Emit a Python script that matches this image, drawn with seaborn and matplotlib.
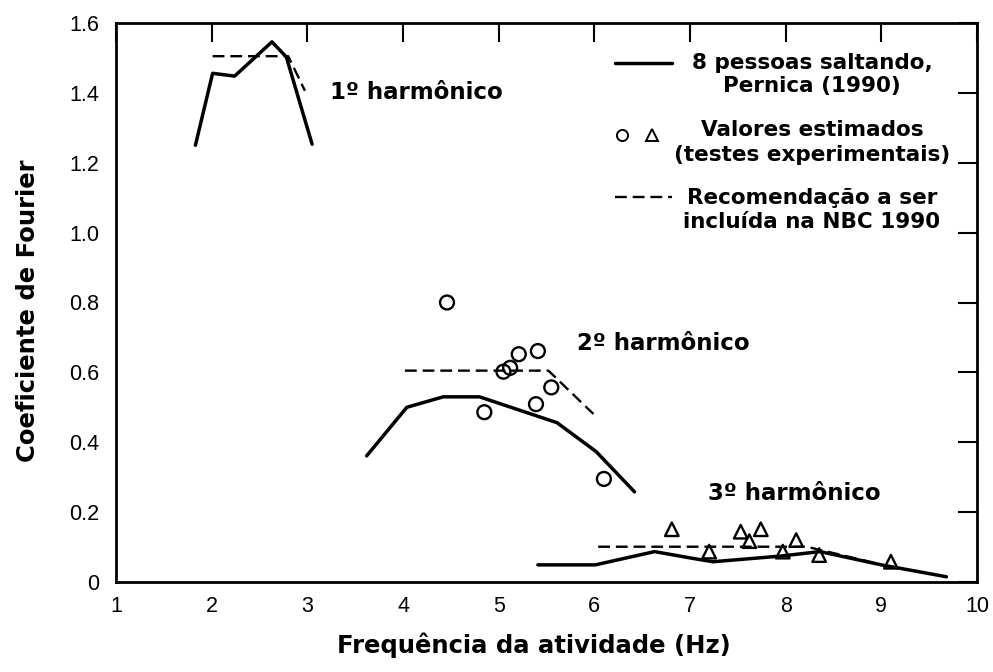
import numpy as np
import pandas as pd
import matplotlib
matplotlib.use("Agg")
import matplotlib.pyplot as plt
import seaborn as sns

# ---------------- data ----------------
h1_x = [1.83, 2.01, 2.24, 2.63, 2.78, 3.05]
h1_y = [1.25, 1.456, 1.448, 1.546, 1.503, 1.253]
h1_rec_x = [2.01, 2.80, 2.975]
h1_rec_y = [1.505, 1.505, 1.406]

h2_x = [3.62, 4.04, 4.42, 4.80, 5.61, 6.02, 6.42]
h2_y = [0.361, 0.500, 0.530, 0.530, 0.456, 0.373, 0.258]
h2_rec_x = [4.02, 5.52, 5.99]
h2_rec_y = [0.605, 0.605, 0.481]
circ_x = [4.46, 4.85, 5.05, 5.12, 5.21, 5.39, 5.41, 5.55, 6.10]
circ_y = [0.800, 0.486, 0.602, 0.613, 0.652, 0.509, 0.661, 0.557, 0.295]

h3_x = [5.41, 6.01, 6.63, 7.02, 7.24, 7.94, 8.36, 9.00, 9.68]
h3_y = [0.049, 0.049, 0.087, 0.068, 0.058, 0.074, 0.087, 0.049, 0.015]
h3_rec_x = [6.04, 8.22, 9.00]
h3_rec_y = [0.101, 0.101, 0.050]
tri_x = [6.81, 7.20, 7.53, 7.62, 7.74, 7.97, 8.11, 8.35, 9.10]
tri_y = [0.151, 0.087, 0.144, 0.117, 0.151, 0.087, 0.120, 0.077, 0.058]

x_ticks = [1, 2, 3, 4, 5, 6, 7, 8, 9, 10]
y_ticks = [0, 0.2, 0.4, 0.6, 0.8, 1.0, 1.2, 1.4, 1.6]
y_tick_labels = ["0", "0.2", "0.4", "0.6", "0.8", "1.0", "1.2", "1.4", "1.6"]

x_label = "Frequência da atividade (Hz)"
y_label = "Coeficiente de Fourier"
harm_labels = ["1º harmônico", "2º harmônico", "3º harmônico"]
harm_pos = [(3.237, 1.402), (5.815, 0.684), (7.188, 0.254)]
legend_lines = [["8 pessoas saltando,", "Pernica (1990)"],
                ["Valores estimados", "(testes experimentais)"],
                ["Recomendação a ser", "incluída na NBC 1990"]]

# ---------------- figure ----------------
sns.set_theme(style="white")
plt.rcParams['font.family'] = ['DejaVu Sans']
plt.rcParams['text.color'] = 'black'
plt.rcParams['axes.labelcolor'] = 'black'
plt.rcParams['xtick.color'] = 'black'
plt.rcParams['ytick.color'] = 'black'

fig = plt.figure(figsize=(9.93, 6.72), dpi=100)
ax = fig.add_axes([116 / 993, 1 - 582 / 672, 861 / 993, 559 / 672])

solid_kw = dict(color="black", linewidth=2.5, sort=False, estimator=None, ax=ax)
dash_kw = dict(color="black", linewidth=1.7, sort=False, estimator=None, ax=ax,
               linestyle=(0, (5, 2.5)))

for xs, ys in [(h1_x, h1_y), (h2_x, h2_y), (h3_x, h3_y)]:
    sns.lineplot(data=pd.DataFrame({"x": xs, "y": ys}), x="x", y="y", **solid_kw)
for xs, ys in [(h1_rec_x, h1_rec_y), (h2_rec_x, h2_rec_y), (h3_rec_x, h3_rec_y)]:
    sns.lineplot(data=pd.DataFrame({"x": xs, "y": ys}), x="x", y="y", **dash_kw)

sns.scatterplot(x=circ_x, y=circ_y, marker="o", s=100, facecolors="none",
                edgecolors="black", linewidth=1.7, ax=ax, zorder=5)
sns.scatterplot(x=tri_x, y=tri_y, marker="^", s=95, facecolors="none",
                edgecolors="black", linewidth=1.7, ax=ax, zorder=5)

ax.set_xlim(1, 10)
ax.set_ylim(0, 1.6)
ax.set_xticks(x_ticks)
ax.set_xticklabels([str(t) for t in x_ticks])
ax.set_yticks(y_ticks)
ax.set_yticklabels(y_tick_labels)
ax.tick_params(direction="in", length=14, width=1.5, top=True, right=True,
               labelsize=15.5, colors="black")
ax.tick_params(axis="x", pad=10)
ax.tick_params(axis="y", pad=12)
for lab in ax.get_xticklabels() + ax.get_yticklabels():
    lab.set_fontfamily(["Liberation Sans Narrow", "Liberation Sans", "DejaVu Sans"])
    lab.set_color("black")
for sp in ax.spines.values():
    sp.set_linewidth(2)
    sp.set_color("black")

ax.set_xlabel(x_label, fontsize=17.5, fontweight="bold", va="center", color="black")
ax.xaxis.set_label_coords(0.485, (582 - 645) / 559)
ax.set_ylabel(y_label, fontsize=17.5, fontweight="bold", va="center", color="black")
ax.yaxis.set_label_coords((28 - 116) / 861, 0.485)

for txt, (tx, ty) in zip(harm_labels, harm_pos):
    ax.text(tx, ty, txt, fontsize=16.5, fontweight="bold", ha="left", va="center",
            color="black")

# ---------------- legend (hand drawn) ----------------
def fx(px):
    return (px - 116) / 861

def fy(py):
    return (582 - py) / 559

tr = ax.transAxes
ax.plot([fx(615), fx(672)], [fy(63), fy(63)], color="black", lw=2.5, transform=tr)
ax.plot([fx(615), fx(672)], [fy(197), fy(197)], color="black", lw=1.7,
        linestyle=(0, (5, 2.5)), transform=tr)
ax.plot([fx(622)], [fy(135)], marker="o", ms=8, mfc="none", mec="black", mew=1.4,
        transform=tr, linestyle="none")
ax.plot([fx(652)], [fy(135)], marker="^", ms=8, mfc="none", mec="black", mew=1.4,
        transform=tr, linestyle="none")

legend_y = [(63, 86), (130, 155), (198, 222)]
for lines, ys in zip(legend_lines, legend_y):
    for line, py in zip(lines, ys):
        ax.text(fx(812), fy(py), line, transform=tr, fontsize=15.5,
                fontweight="bold", ha="center", va="center", color="black")

fig.savefig("out.png", dpi=100, facecolor="white")
